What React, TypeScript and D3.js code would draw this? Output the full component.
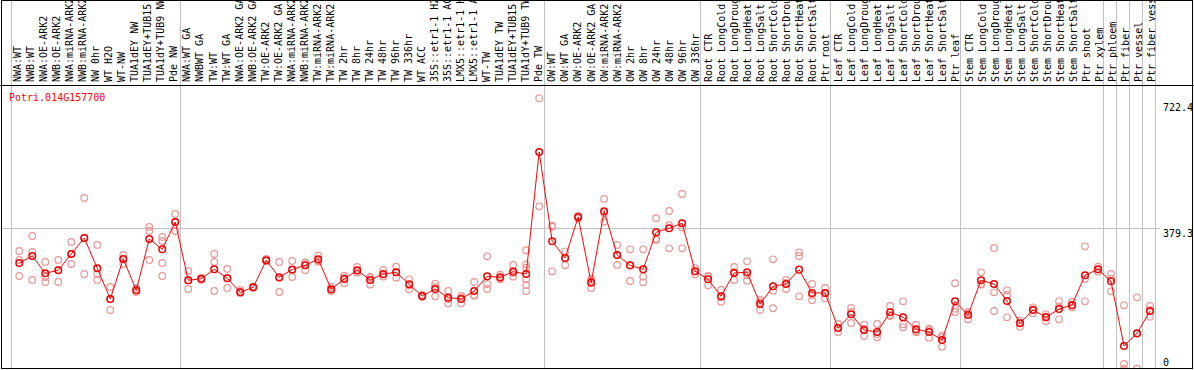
import React, { useEffect, useRef } from 'react';
import * as d3 from 'd3';

const geneId = 'Potri.014G157700';

const labels = [
  'NWA:WT', 'NWB:WT', 'NWA:OE-ARK2', 'NWB:OE-ARK2', 'NWA:miRNA-ARK2', 'NWB:miRNA-ARK2',
  'NW 0hr', 'WT H2O', 'WT-NW', 'TUA1dEY NW', 'TUA1dEY+TUB15', 'TUA1dY+TUB9 NW', 'Pde NW',
  'NWA:WT GA', 'NWBWT GA', 'TW:WT', 'TW:WT GA', 'NWA:OE-ARK2 GA', 'NWB:OE-ARK2 GA',
  'TW:OE-ARK2', 'TW:OE-ARK2 GA', 'NWA:miRNA-ARK2', 'NWB:miRNA-ARK2', 'TW:miRNA-ARK2',
  'TW:miRNA-ARK2', 'TW 2hr', 'TW 8hr', 'TW 24hr', 'TW 48hr', 'TW 96hr', 'TW 336hr',
  'WT ACC', '35S::etr1-1 H2O', '35S::etr1-1 ACC', 'LMX5::etr1-1 H2O', 'LMX5::etr1-1 ACC',
  'WT-TW', 'TUA1dEY TW', 'TUA1dEY+TUB15', 'TUA1dY+TUB9 TW', 'Pde TW',
  'OW:WT', 'OW:WT GA', 'OW:OE-ARK2', 'OW:OE-ARK2 GA', 'OW:miRNA-ARK2', 'OW:miRNA-ARK2',
  'OW 2hr', 'OW 8hr', 'OW 24hr', 'OW 48hr', 'OW 96hr', 'OW 336hr',
  'Root CTR', 'Root LongCold', 'Root LongDrought', 'Root LongHeat', 'Root LongSalt',
  'Root ShortCold', 'Root ShortDrought', 'Root ShortHeat', 'Root ShortSalt', 'Ptr root',
  'Leaf CTR', 'Leaf LongCold', 'Leaf LongDrought', 'Leaf LongHeat', 'Leaf LongSalt',
  'Leaf ShortCold', 'Leaf ShortDrought', 'Leaf ShortHeat', 'Leaf ShortSalt', 'Ptr leaf',
  'Stem CTR', 'Stem LongCold', 'Stem LongDrought', 'Stem LongHeat', 'Stem LongSalt',
  'Stem ShortCold', 'Stem ShortDrought', 'Stem ShortHeat', 'Stem ShortSalt', 'Ptr shoot',
  'Ptr xylem', 'Ptr phloem', 'Ptr fiber', 'Ptr vessel', 'Ptr fiber vessel'
];

// index where each group ends (gridline after it)
const groupEnds = [0, 13, 41, 53, 63, 73, 84, 85, 86, 87, 88];

const means = [
  287.8, 306.2, 260.6, 268.5, 311.5, 353.8, 273.8, 192.7, 298.3, 215.7, 351.1, 323.9, 396,
  242.1, 246.3, 271.1, 247.4, 210.4, 223.6, 294.9, 250, 270.6, 281.7, 297.5, 218.3, 245.5,
  268.5, 242.9, 258.7, 263.2, 231.5, 200.6, 219.1, 196.2, 192.7, 213.8, 252.6, 250, 264.8,
  258.7, 580.8,
  345, 301, 409.2, 235.8, 424.2, 308.9, 281.7, 271.1, 368.8, 379.4, 392.6, 265.8,
  244.7, 199.8, 261.4, 263.2, 179.5, 226.2, 232.3, 270.1, 208.6, 208.6,
  116.2, 152.3, 110.9, 105.6, 157.6, 144.4, 112.7, 105.6, 84.5, 186.6,
  150.5, 242.1, 232.3, 187.4, 128.6, 163.7, 144.4, 166.3, 176.9, 255.3, 271.1,
  239.4, 68.6, 102.2, 161
];

const reps = [
  [319.4, 295.7, 253.4], [359, 316.8, 242.9], [290.4, 250.8, 237.6], [295.7, 237.6, 269.3],
  [343.2, 285.1, 311.5], [459.4, 258.7, 353.8], [335.3, 258.7, 242.9], [224.4, 163.7, 192.7],
  [308.9, 285.1, 298.3], [221.8, 216.5, 211.2], [382.8, 372.2, 295.7], [356.4, 345.8, 287.8, 253.4],
  [417.1, 372.2, 396],
  [266.6, 219.1, 242.1], [248.2, 245.5, 242.9], [311.5, 290.4, 213.8], [271.9, 221.8, 248.2],
  [216.5, 208.6, 211.2], [224.4, 221.8, 224.4], [298.3, 293, 293], [290.4, 211.2, 248.2],
  [293, 250.8, 269.3], [287, 268.5, 289], [307, 291.2, 294.7], [224.4, 216.5, 213.8],
  [254.2, 234.2, 248.2], [277.2, 262.1, 266.6], [249, 230.5, 250.8], [269.3, 251.6, 256.8],
  [278, 249, 264], [244.7, 218.3, 229], [203.3, 198, 200.6], [233.1, 199.8, 224.4],
  [213.8, 181.4, 192.7], [200.6, 181.4, 195.4], [237.6, 201.4, 202.4], [305.4, 232.3, 219.1],
  [256.9, 244.7, 248.2], [282.5, 251.6, 261.4], [321.3, 284.3, 275.4, 244.7, 229.7, 213],
  [722.4, 437.4],
  [383.6, 386, 265.8], [318.6, 281.7, 301], [409, 405, 412], [245.5, 221.8, 240],
  [456.7, 396.8, 419], [335.3, 282.5, 309], [323.9, 240.2, 281], [323.9, 251.6, 236.8],
  [405.8, 348.5, 352], [425, 326.5, 387.3], [469.9, 326.5, 381.4], [273.8, 257.9, 265.8],
  [253.4, 228.9, 251.6], [216.5, 185.6, 197.3], [277.2, 242.9, 264], [292.2, 241, 256],
  [190.9, 163.7, 184.8], [297.5, 168.2, 214.6], [242.9, 219.1, 235], [316, 306.2, 199.8],
  [232.3, 189.3, 203.3], [221.8, 194.6, 208.6],
  [104.8, 116.2, 126.7], [169, 129.4, 158.4], [124.9, 95, 113.5], [126.7, 91.6, 100.3],
  [174.2, 150.5, 147.8], [186.6, 125.9, 118], [124.9, 104.8, 108.2], [114.3, 90.6, 110.9],
  [95.8, 66.8, 90.6], [234.2, 167.1, 158.4],
  [139.1, 158.4, 154], [263.2, 232.3, 230.7], [327.4, 210.4, 161], [215.7, 203.3, 144.4],
  [135.4, 119.6, 130.4], [170.8, 155, 165.3], [152.3, 133.8, 147], [186.6, 139.1, 173.2],
  [184.8, 170.8, 175], [331.8, 245.5, 186.6], [278, 264.8, 270.5],
  [258.7, 213, 246.6], [176.1, 21.1, 8.6], [197.2, 8.7, 100.7], [174.2, 146, 163]
];

const yTicks = [722.4, 379.3, 0];
const yGridValues = [379.3];

const App = () => {
  const svgRef = useRef(null);

  useEffect(() => {
    document.body.style.margin = '0';
    const svg = d3.select(svgRef.current);
    svg.selectAll('*').remove();

    const width = 1194;
    const height = 370;
    const headerBottom = 85;
    const plotBottom = 368;
    const font = '"DejaVu Sans Mono", monospace';

    const xGrid = d3.scaleLinear().domain([0, labels.length]).range([11, 1155]);
    const xPoint = d3.scaleLinear().domain([0, labels.length - 1]).range([19.3, 1150]);
    const xLabel = d3.scaleLinear().domain([0, labels.length - 1]).range([21, 1155]);
    const yScale = d3.scaleLinear().domain([0, 722.4]).range([372, 98.3]);

    svg.append('rect')
      .attr('width', width)
      .attr('height', height)
      .attr('fill', 'white');

    svg.append('defs')
      .append('clipPath')
      .attr('id', 'plot-clip')
      .append('rect')
      .attr('x', 1)
      .attr('y', headerBottom + 1)
      .attr('width', 1192)
      .attr('height', plotBottom - headerBottom - 1);

    // vertical group separators
    svg.append('g')
      .selectAll('line')
      .data(groupEnds)
      .enter()
      .append('line')
      .attr('x1', (d) => Math.round(xGrid(d)) + 0.5)
      .attr('x2', (d) => Math.round(xGrid(d)) + 0.5)
      .attr('y1', 0)
      .attr('y2', plotBottom)
      .attr('stroke', '#c0c0c0')
      .attr('stroke-width', 1);

    // horizontal gridline
    svg.append('g')
      .selectAll('line')
      .data(yGridValues)
      .enter()
      .append('line')
      .attr('x1', 1)
      .attr('x2', 1160)
      .attr('y1', (d) => Math.round(yScale(d)) + 0.5)
      .attr('y2', (d) => Math.round(yScale(d)) + 0.5)
      .attr('stroke', '#c0c0c0')
      .attr('stroke-width', 1);

    // header separator + frame
    svg.append('line')
      .attr('x1', 0)
      .attr('x2', width)
      .attr('y1', headerBottom + 0.5)
      .attr('y2', headerBottom + 0.5)
      .attr('stroke', 'black');

    svg.append('rect')
      .attr('x', 1.5)
      .attr('y', 0.5)
      .attr('width', width - 3)
      .attr('height', plotBottom)
      .attr('fill', 'none')
      .attr('stroke', 'black');

    // sample labels
    svg.append('g')
      .selectAll('text')
      .data(labels)
      .enter()
      .append('text')
      .attr('transform', (d, i) => `translate(${xLabel(i)},82) rotate(-90)`)
      .attr('font-family', font)
      .attr('font-size', 10)
      .attr('fill', 'black')
      .text((d) => d);

    const plot = svg.append('g').attr('clip-path', 'url(#plot-clip)');

    // replicate points
    const repPoints = reps.flatMap((vals, i) => vals.map((v) => ({ i, v })));
    plot.selectAll('.rep')
      .data(repPoints)
      .enter()
      .append('circle')
      .attr('class', 'rep')
      .attr('cx', (d) => xPoint(d.i))
      .attr('cy', (d) => yScale(d.v))
      .attr('r', 3.3)
      .attr('fill', 'none')
      .attr('stroke', '#eb9595')
      .attr('stroke-width', 1.2);

    // mean line
    const lineGenerator = d3.line()
      .x((d, i) => xPoint(i))
      .y((d) => yScale(d));

    plot.append('path')
      .datum(means)
      .attr('fill', 'none')
      .attr('stroke', '#ff0000')
      .attr('stroke-width', 1)
      .attr('d', lineGenerator);

    // mean points
    plot.selectAll('.mean')
      .data(means)
      .enter()
      .append('circle')
      .attr('class', 'mean')
      .attr('cx', (d, i) => xPoint(i))
      .attr('cy', (d) => yScale(d))
      .attr('r', 3.3)
      .attr('fill', 'none')
      .attr('stroke', '#ee0000')
      .attr('stroke-width', 1.5);

    // gene id
    svg.append('text')
      .attr('x', 9)
      .attr('y', 101)
      .attr('font-family', font)
      .attr('font-size', 10)
      .attr('fill', '#ff0000')
      .text(geneId);

    // value labels on the right
    svg.append('g')
      .selectAll('text')
      .data(yTicks)
      .enter()
      .append('text')
      .attr('x', 1163)
      .attr('y', (d) => Math.min(Math.max(yScale(d) + 9, 111), 366))
      .attr('font-family', font)
      .attr('font-size', 10)
      .attr('fill', 'black')
      .text((d) => String(d));
  }, []);

  return (
    <svg ref={svgRef} width={1194} height={370} style={{ display: 'block' }}></svg>
  );
};

export default App;
